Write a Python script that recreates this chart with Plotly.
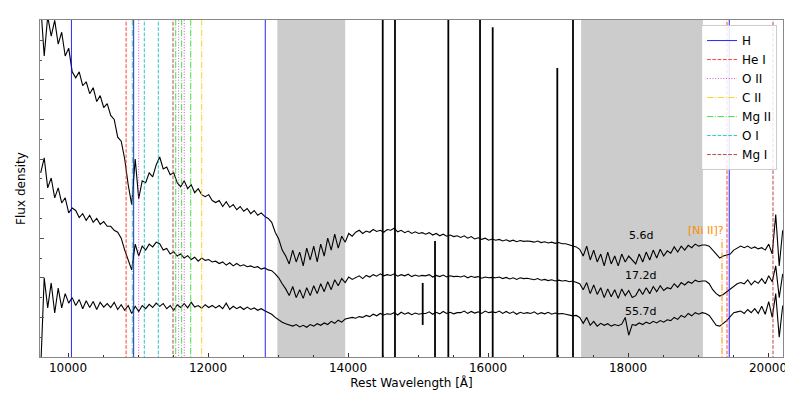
import numpy as np
import plotly.graph_objects as go

WAVE = np.arange(9610, 20211, 50)

# flux, one row per 500 A
FLUX_5D6 = [
    8.9, 7.6, 8.6, 8.1, 8.5, 7.9, 8.2, 7.6, 7.8, 7.2,
    7.05, 7.2, 6.85, 6.95, 6.65, 6.8, 6.45, 6.6, 6.3, 6.4,
    6.1, 6.0, 5.55, 5.45, 5.0, 4.35, 3.85, 5.0, 4.0, 4.45,
    4.4, 4.65, 4.55, 4.85, 5.05, 4.75, 4.8, 4.6, 4.65, 4.4,
    4.3, 4.45, 4.25, 4.35, 4.15, 4.25, 4.1, 4.05, 4.1, 3.95,
    3.9, 3.95, 3.8, 3.92, 3.78, 3.85, 3.72, 3.8, 3.68, 3.75,
    3.62, 3.7, 3.58, 3.64, 3.55, 3.5, 3.4, 3.15, 2.98, 2.7,
    2.55, 2.35, 2.7, 2.4, 2.65, 2.3, 2.75, 2.45, 2.8, 2.4,
    2.85, 2.55, 3.0, 2.7, 3.1, 2.75, 3.05, 2.9, 3.12, 3.05,
    3.15, 3.2, 3.12, 3.18, 3.15, 3.22, 3.17, 3.2, 3.15, 3.22,
    3.2, 3.25, 3.16, 3.2, 3.14, 3.18, 3.12, 3.16, 3.12, 3.14,
    3.1, 3.14, 3.08, 3.12, 3.06, 3.1, 3.05, 3.08, 3.04, 3.06,
    3.02, 3.06, 3.0, 3.04, 2.98, 3.01, 2.97, 3.0, 2.95, 2.98,
    2.95, 2.97, 2.93, 2.96, 2.92, 2.95, 2.91, 2.94, 2.92, 2.93,
    2.92, 2.9, 2.93, 2.89, 2.91, 2.88, 2.9, 2.87, 2.89, 2.86,
    2.86, 2.83, 2.8, 2.78, 2.72, 2.55, 2.8, 2.45, 2.7, 2.4,
    2.6, 2.3, 2.65, 2.35, 2.55, 2.3, 2.6, 2.4, 2.55, 2.45,
    2.35, 2.6, 2.4, 2.65, 2.45, 2.7, 2.5, 2.72, 2.55, 2.68,
    2.62, 2.78, 2.65, 2.8, 2.7, 2.82, 2.76, 2.85, 2.8, 2.83,
    2.83, 2.8, 2.7, 2.58, 2.5, 2.55, 2.58, 2.6, 2.7, 2.75,
    2.8, 2.76, 2.8, 2.74, 2.78, 2.73, 2.76, 2.7, 2.85, 2.6,
    3.6, 2.3, 3.2,
]
FLUX_17D2 = [
    4.65, 5.03, 4.27, 4.52, 4.02, 4.27, 3.89, 4.02, 3.64, 3.76,
    3.7, 3.52, 3.62, 3.45, 3.58, 3.4, 3.5, 3.35, 3.42, 3.3,
    3.3, 3.2, 3.15, 3.0, 2.7, 2.45, 2.2, 2.85, 2.55, 2.8,
    2.7, 2.85, 2.78, 2.9, 2.86, 2.7, 2.74, 2.6, 2.66, 2.55,
    2.6, 2.5, 2.56, 2.46, 2.52, 2.42, 2.5, 2.44, 2.46, 2.4,
    2.42, 2.36, 2.4, 2.32, 2.38, 2.3, 2.36, 2.3, 2.33, 2.28,
    2.3, 2.26, 2.28, 2.22, 2.25, 2.2, 2.18, 2.1, 2.0, 1.85,
    1.72, 1.55, 1.78, 1.5, 1.7, 1.48, 1.75, 1.55, 1.8, 1.6,
    1.85, 1.65, 1.9, 1.7, 1.95, 1.8, 1.98, 1.88, 2.02, 1.96,
    2.0, 2.05, 1.98, 2.06, 2.02, 2.08, 2.04, 2.1, 2.05, 2.08,
    2.06, 2.1, 2.04, 2.08, 2.05, 2.09, 2.03, 2.07, 2.04, 2.06,
    2.05, 2.08, 2.02, 2.06, 2.03, 2.07, 2.02, 2.05, 2.03, 2.04,
    2.02, 2.05, 2.0, 2.04, 2.01, 2.03, 1.99, 2.02, 2.0, 2.01,
    2.0, 2.02, 1.98, 2.01, 1.97, 2.0, 1.96, 2.0, 1.98, 1.99,
    1.97, 1.95, 1.98, 1.94, 1.96, 1.93, 1.95, 1.92, 1.94, 1.92,
    1.93, 1.9, 1.92, 1.88, 1.85, 1.7, 1.88, 1.6, 1.82, 1.58,
    1.75, 1.5, 1.72, 1.52, 1.7, 1.48, 1.72, 1.55, 1.68, 1.5,
    1.55, 1.72, 1.58, 1.75, 1.6, 1.78, 1.65, 1.8, 1.68, 1.75,
    1.72, 1.85, 1.76, 1.88, 1.82, 1.9, 1.86, 1.94, 1.9, 1.92,
    1.92, 1.85, 1.7, 1.6, 1.54, 1.58, 1.65, 1.72, 1.8, 1.85,
    1.88, 1.85, 1.95, 1.82, 1.92, 1.86, 1.98, 1.85, 2.05, 1.9,
    2.3, 1.5, 2.1,
]
FLUX_55D7 = [
    -0.3, 2.0, 1.24, 1.87, 1.11, 1.74, 1.24, 1.6, 1.36, 1.5,
    1.3, 1.45, 1.22, 1.42, 1.25, 1.4, 1.2, 1.38, 1.26, 1.35,
    1.25, 1.38, 1.2, 1.32, 1.18, 1.3, 1.1, 1.28, 1.15, 1.3,
    1.22, 1.33, 1.25, 1.36, 1.28, 1.35, 1.22, 1.3, 1.18, 1.32,
    1.25, 1.35, 1.24, 1.38, 1.26, 1.3, 1.23, 1.32, 1.25, 1.3,
    1.24, 1.3, 1.22, 1.36, 1.2, 1.28, 1.22, 1.27, 1.2, 1.26,
    1.2, 1.24, 1.18, 1.22, 1.17, 1.12, 1.08, 1.0, 0.93, 0.88,
    0.84, 0.8, 0.78, 0.82, 0.76, 0.8, 0.75, 0.82, 0.78, 0.84,
    0.8, 0.86, 0.82, 0.9, 0.85, 0.93, 0.88, 0.96, 0.98, 1.0,
    0.98, 1.02, 1.0, 1.05, 1.02, 1.08, 1.04, 1.1, 1.06, 1.09,
    1.08, 1.12, 1.06, 1.13, 1.08, 1.12, 1.07, 1.11, 1.08, 1.1,
    1.1, 1.14, 1.08, 1.13, 1.09, 1.15, 1.1, 1.13, 1.09, 1.12,
    1.12, 1.16, 1.1, 1.15, 1.11, 1.14, 1.1, 1.16, 1.12, 1.14,
    1.12, 1.16, 1.1, 1.15, 1.1, 1.14, 1.08, 1.13, 1.1, 1.12,
    1.1, 1.14, 1.08, 1.12, 1.09, 1.13, 1.08, 1.11, 1.09, 1.1,
    1.08, 1.06, 1.04, 1.05, 1.0, 0.85, 1.0, 0.8, 0.9, 0.78,
    0.85, 0.8, 0.84, 0.78, 0.82, 0.79, 0.83, 1.0, 0.55, 0.82,
    0.8, 0.86, 0.82, 0.88, 0.84, 0.9, 0.86, 0.92, 0.88, 0.94,
    0.92, 1.0, 0.95, 1.05, 1.0, 1.1, 1.04, 1.12, 1.08, 1.12,
    1.1, 1.05, 0.92, 0.8, 0.78, 0.85, 0.92, 1.02, 1.12, 1.14,
    1.16, 1.1, 1.2, 1.12, 1.22, 1.1, 1.28, 1.08, 1.4, 1.0,
    1.6, 0.5, 1.3,
]
EPOCHS = ["5.6d", "17.2d", "55.7d"]

# bad-pixel spikes in the early spectrum: wavelength, low and high flux
SPIKE_WAVE = [14496, 14671, 15067, 15243, 15433, 15886, 16067, 16990, 17214]
SPIKE_LO = [-1, -1, 0.81, -1, -1, -1, -1, -1, -1]
SPIKE_HI = [10, 10, 1.87, 2.93, 10, 10, 8.33, 7.3, 10]

# telluric bands (shaded)
BANDS = [(12990, 13960), (17330, 19070)]

# line identifications
LINE_NAMES = ["H", "He I", "O II", "C II", "Mg II", "O I", "Mg I"]
LINE_WAVES = [
    [10049, 10938, 12818, 19446],
    [10830, 19414],
    [11010, 11581, 11661],
    [11910],
    [10919, 11539, 11624, 11753],
    [11090, 11290],
    [11500, 20071],
]
LINE_COLORS = ["#0000ff", "#ff2020", "#cc33cc", "#ffcc00", "#22dd22", "#11bbbb", "#a52a2a"]
DASH = "3.7px,1.6px"
DOT = "1px,1.7px"
DASHDOT = "6.4px,1.6px,1px,1.6px"
LINE_DASH = ["solid", DASH, DOT, DASHDOT, DASHDOT, DASH, DASH]

NI_WAVE = 19343
NI_TOP = 3.0

fig = go.Figure()

for x0, x1 in BANDS:
    fig.add_vrect(x0=x0, x1=x1, fillcolor="#cccccc", line_width=0, layer="below")

for flux in (FLUX_5D6, FLUX_17D2, FLUX_55D7):
    fig.add_trace(go.Scatter(x=WAVE, y=flux, mode="lines", showlegend=False,
                             line=dict(color="black", width=1.1)))

sx, sy = [], []
for w, lo, hi in zip(SPIKE_WAVE, SPIKE_LO, SPIKE_HI):
    sx += [w, w, None]
    sy += [lo, hi, None]
fig.add_trace(go.Scatter(x=sx, y=sy, mode="lines", showlegend=False,
                         line=dict(color="black", width=1.8)))

for name, waves, col, dash in zip(LINE_NAMES, LINE_WAVES, LINE_COLORS, LINE_DASH):
    lx, ly = [], []
    for w in waves:
        lx += [w, w, None]
        ly += [-1, 10, None]
    fig.add_trace(go.Scatter(x=lx, y=ly, mode="lines", name=name, opacity=0.85,
                             line=dict(color=col, width=1, dash=dash)))

fig.add_trace(go.Scatter(x=[NI_WAVE, NI_WAVE], y=[-1, NI_TOP], mode="lines",
                         showlegend=False, line=dict(color="darkorange", width=1, dash=DASHDOT)))
fig.add_annotation(x=19120, y=3.2, text="[Ni II]?", showarrow=False,
                   font=dict(size=11, color="darkorange"))

for label, y in zip(EPOCHS, [3.08, 2.07, 1.16]):
    fig.add_annotation(x=18180, y=y, text=label, showarrow=False,
                       font=dict(size=11, color="black"))

fig.update_xaxes(range=[9600, 20214], tickvals=list(range(10000, 20001, 2000)),
                 tickformat="d",
                 ticks="inside", ticklen=4, tickcolor="#333",
                 minor=dict(dtick=500, tick0=0, ticks="inside", ticklen=2, tickcolor="#333"),
                 showline=True, mirror=True, linecolor="#888", linewidth=1,
                 showgrid=False, zeroline=False,
                 tickfont=dict(size=12, color="black"),
                 title=dict(text="Rest Wavelength [Å]", font=dict(size=12, color="black"), standoff=4))
fig.update_yaxes(range=[0, 8.51], tick0=0, dtick=1, showticklabels=False,
                 ticks="inside", ticklen=4, tickcolor="#555",
                 minor=dict(dtick=0.5, ticks="inside", ticklen=2, tickcolor="#555"),
                 showline=True, mirror=True, linecolor="#888", linewidth=1,
                 showgrid=False, zeroline=False,
                 title=dict(text="Flux density", font=dict(size=12, color="black"), standoff=10))

fig.update_layout(
    width=793, height=397,
    margin=dict(l=32, r=18, t=12, b=48),
    paper_bgcolor="white", plot_bgcolor="white",
    font=dict(family="DejaVu Sans", size=12, color="black"),
    legend=dict(x=0.992, y=0.985, xanchor="right", yanchor="top",
                bgcolor="rgba(255,255,255,0.85)", bordercolor="#cccccc", borderwidth=1,
                font=dict(size=12), itemwidth=30, tracegroupgap=0),
)

fig.write_html("out.html")
